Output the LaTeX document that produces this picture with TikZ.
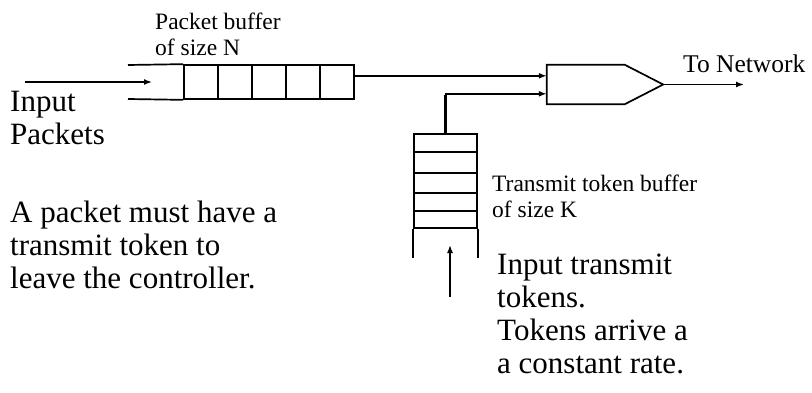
\documentclass[tikz,border=0pt]{standalone}
\usepackage{fontspec}
\setmainfont{Liberation Serif}
\usetikzlibrary{arrows.meta,calc}
\tikzset{
  line/.style={line width=1.7pt},
  big/.style={font=\fontsize{31}{33}\selectfont,align=left,inner sep=0pt,anchor=north west},
  small/.style={font=\fontsize{23.5}{25.5}\selectfont,align=left,inner sep=0pt,anchor=north west}
}
\begin{document}
\begin{tikzpicture}[x=1pt,y=-1pt,>={Latex[length=8pt,width=6pt]}]
\useasboundingbox (0,0) rectangle (812,393);
\node[draw,line,minimum width=170pt,minimum height=34pt,inner sep=0pt] (pbuf) at (269,82) {};
\foreach \x in {218,252,286,320} \draw[line] (\x,65) -- (\x,99);
\node[draw,line,minimum width=63pt,minimum height=94pt,inner sep=0pt] (tbuf) at (445.5,181) {};
\foreach \y in {152,173,193,211} \draw[line] (414,\y) -- (477,\y);
\node[minimum width=116pt,minimum height=39pt,inner sep=0pt] (gate) at (605,84.5) {};
\draw[line] (gate.north west) -- ($(gate.north west)+(78,0)$) -- (gate.east) -- ($(gate.south west)+(78,0)$) -- (gate.south west) -- cycle;
\coordinate (pin) at (25,82);
\coordinate (pend) at (152,82);
\coordinate (gin1) at ($(gate.north west)+(0,11)$);
\coordinate (gin2) at ($(gate.north west)+(0,29)$);
\coordinate (gout) at (744,84.5);
\coordinate (tin) at (450,297);
\coordinate (tend) at (450,245);
\draw[line] (128,65) -- (pbuf.north west);
\draw[line] (128,99) -- (pbuf.south west);
\draw[line] (tbuf.south west) -- ++(0,29);
\draw[line] (tbuf.south east) -- ++(0,29);
\draw[->,line width=1.5pt] (pin) -- (pend);
\draw[->,line width=1.5pt] (pbuf.east |- gin1) -- (gin1);
\draw[->,line width=1.5pt] (tbuf.north) |- (gin2);
\draw[line width=3pt] (tbuf.north) -- ($(tbuf.north)+(0,-38)$);
\draw[->,line width=1.5pt] (gate.east) -- (gout);
\draw[->,line width=1.5pt] (tin) -- (tend);
\node[small] (pbtext) at (155,13) {Packet buffer\\of size N};
\node[small,font=\fontsize{25.5}{28}\selectfont] (nettext) at (683,55) {To Network};
\node[small] (tbtext) at (492,175) {Transmit token buffer\\of size K};
\node[big] (intext) at (10,91) {Input\\Packets};
\node[big] (ruletext) at (10,201) {A packet must have a\\transmit token to\\leave the controller.};
\node[big] (toktext) at (497,254) {Input transmit\\tokens.\\Tokens arrive a\\a constant rate.};
\end{tikzpicture}
\end{document}
